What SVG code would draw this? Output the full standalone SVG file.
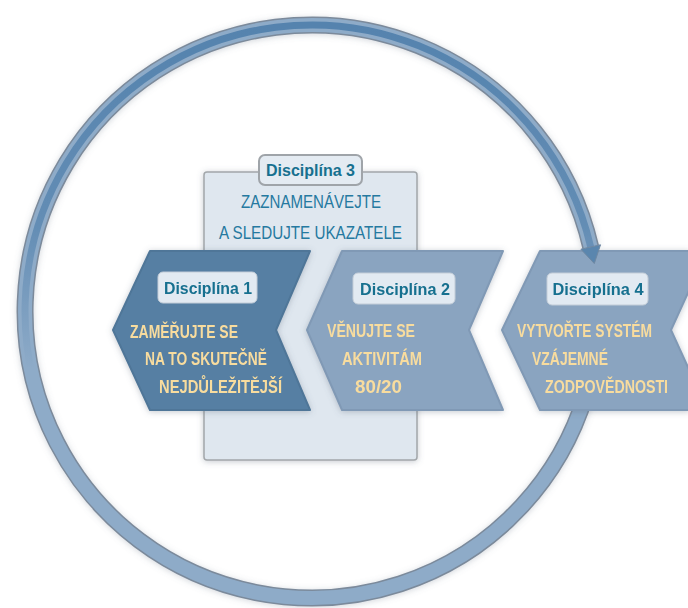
<svg xmlns="http://www.w3.org/2000/svg" width="688" height="608" viewBox="0 0 688 608">
  <defs>
    <filter id="sh" x="-20%" y="-20%" width="140%" height="140%">
      <feDropShadow dx="0" dy="1" stdDeviation="3" flood-color="#5a6878" flood-opacity="0.35"/>
    </filter>
    <filter id="shr" x="-10%" y="-10%" width="120%" height="120%">
      <feDropShadow dx="0" dy="1" stdDeviation="3" flood-color="#6a7888" flood-opacity="0.3"/>
    </filter>
    <linearGradient id="stripe" gradientUnits="userSpaceOnUse" x1="0" y1="25" x2="0" y2="598">
      <stop offset="0" stop-color="#5583ae" stop-opacity="1"/>
      <stop offset="0.35" stop-color="#5583ae" stop-opacity="0.75"/>
      <stop offset="0.6" stop-color="#5583ae" stop-opacity="0"/>
    </linearGradient>
    <style>
      .chev-dark { fill: #567fa3; stroke: #4f7698; stroke-width: 2; stroke-linejoin: round; }
      .chev-light { fill: #8aa4c0; stroke: #8099b5; stroke-width: 2; stroke-linejoin: round; }
      .lbl { fill: #e2eaf2; stroke: #c3cdd8; stroke-width: 1; }
      .lbl3 { fill: #e4ebf2; stroke: #9fa4a9; stroke-width: 2; }
      .lbltxt { font-family: "Liberation Sans", "DejaVu Sans", sans-serif; font-weight: bold; font-size: 17px; fill: #17708f; text-anchor: middle; }
      .ytxt { font-family: "Liberation Sans", "DejaVu Sans", sans-serif; font-weight: bold; font-size: 19px; fill: #f8dc9e; }
      .ttxt { font-family: "Liberation Sans", "DejaVu Sans", sans-serif; font-size: 19px; fill: #2579a0; }
    </style>
  </defs>
  <rect width="688" height="608" fill="#ffffff"/>

  <g id="connectors">
    <g id="cycle-ring" filter="url(#shr)">
      <path d="M 585.6 395 A 286.5 286.5 0 1 1 590.7 247" fill="none" stroke="#7b8a9b" stroke-width="17"/>
      <path d="M 585.6 395 A 286.5 286.5 0 1 1 590.7 247" fill="none" stroke="#8eabc8" stroke-width="14"/>
      <path d="M 585.6 395 A 286.5 286.5 0 1 1 590.7 247" fill="none" stroke="url(#stripe)" stroke-width="7"/>
    </g>
  </g>

  <g id="disciplina-3">
    <rect x="204" y="172" width="213" height="288" rx="3" fill="#dfe7ef" stroke="#a3a7ab" stroke-width="1.5" filter="url(#sh)"/>
    <rect class="lbl3" x="259" y="155" width="103" height="30" rx="6"/>
    <text class="lbltxt" x="310.5" y="176" textLength="89" lengthAdjust="spacingAndGlyphs">Disciplína 3</text>
    <text class="ttxt" x="241" y="208" textLength="140" lengthAdjust="spacingAndGlyphs">ZAZNAMENÁVEJTE</text>
    <text class="ttxt" x="219" y="239" textLength="183" lengthAdjust="spacingAndGlyphs">A SLEDUJTE UKAZATELE</text>
  </g>

  <g id="disciplina-1" filter="url(#sh)">
    <polygon class="chev-dark" points="150,251 310,251 276,330 310,410 150,410 113,330"/>
    <rect class="lbl" x="158" y="272" width="99" height="31" rx="5"/>
    <text class="lbltxt" x="208" y="294" textLength="88" lengthAdjust="spacingAndGlyphs">Disciplína 1</text>
    <text class="ytxt" x="130" y="338" textLength="108" lengthAdjust="spacingAndGlyphs">ZAMĚŘUJTE SE</text>
    <text class="ytxt" x="145" y="365" textLength="122" lengthAdjust="spacingAndGlyphs">NA TO SKUTEČNĚ</text>
    <text class="ytxt" x="159" y="393" textLength="123" lengthAdjust="spacingAndGlyphs">NEJDŮLEŽITĚJŠÍ</text>
  </g>

  <g id="disciplina-2" filter="url(#sh)">
    <polygon class="chev-light" points="342,251 503,251 469,330 503,410 342,410 307,330"/>
    <rect class="lbl" x="353" y="273" width="102" height="31" rx="5"/>
    <text class="lbltxt" x="405" y="295" textLength="90" lengthAdjust="spacingAndGlyphs">Disciplína 2</text>
    <text class="ytxt" x="327" y="337" textLength="88" lengthAdjust="spacingAndGlyphs">VĚNUJTE SE</text>
    <text class="ytxt" x="342" y="365" textLength="80" lengthAdjust="spacingAndGlyphs">AKTIVITÁM</text>
    <text class="ytxt" x="355" y="393" textLength="47" lengthAdjust="spacingAndGlyphs">80/20</text>
  </g>

  <g id="disciplina-4" filter="url(#sh)">
    <polygon class="chev-light" points="540,251 689,251 689,290.5 671,330 689,369.5 689,410 540,410 502,330"/>
    <rect class="lbl" x="547" y="273" width="101" height="32" rx="5"/>
    <text class="lbltxt" x="598" y="295" textLength="91" lengthAdjust="spacingAndGlyphs">Disciplína 4</text>
    <g transform="scale(0.75,1)">
      <text class="ytxt" x="689.33" y="337" textLength="180" lengthAdjust="spacingAndGlyphs">VYTVOŘTE SYSTÉM</text>
      <text class="ytxt" x="709.33" y="365" textLength="101.33" lengthAdjust="spacingAndGlyphs">VZÁJEMNÉ</text>
      <text class="ytxt" x="726.67" y="393" textLength="164" lengthAdjust="spacingAndGlyphs">ZODPOVĚDNOSTI</text>
    </g>
  </g>

  <g id="arrowhead">
    <polygon points="600.5,244.8 580.9,249.2 594.3,263.5" fill="#5a86ae" stroke="#6f88a2" stroke-width="1" stroke-linejoin="round"/>
  </g>
</svg>
